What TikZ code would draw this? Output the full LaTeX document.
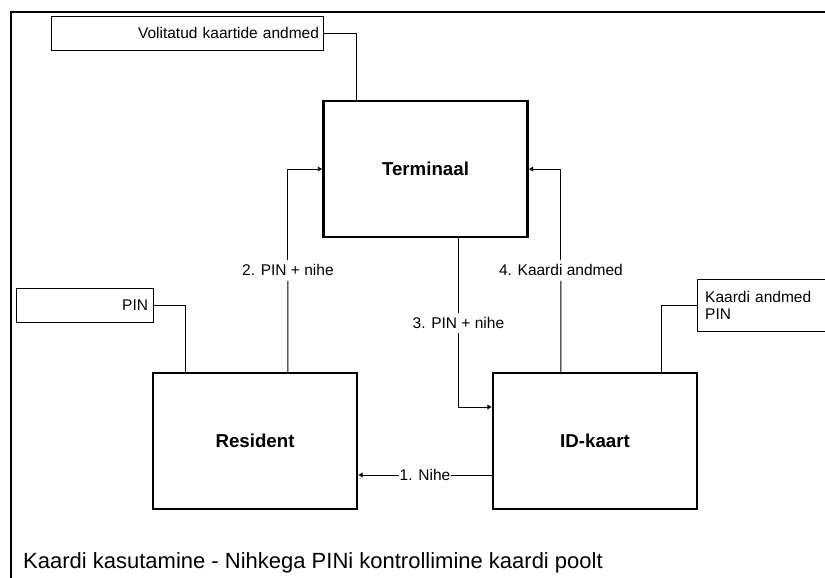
\documentclass[tikz,border=0pt]{standalone}
\usepackage{fontspec}
\setmainfont{Liberation Sans}
\usetikzlibrary{arrows.meta,calc}

\tikzset{
  block/.style={draw, line width=2.2pt, minimum width=204pt, minimum height=136pt,
                inner sep=0pt, font=\fontsize{18.7}{22}\selectfont\bfseries},
  store/.style={draw, line width=0.8pt, minimum height=34pt, inner xsep=4pt, inner ysep=0pt,
                align=right, font=\fontsize{15.5}{18}\selectfont},
  link/.style={line width=0.9pt},
  flow/.style={link, -{Latex[length=4.5pt,width=5.5pt]}},
  flowlabel/.style={inner xsep=1pt, inner ysep=4.5pt, font=\fontsize{15.5}{18}\selectfont},
  frame/.style={line width=2pt}
}

\begin{document}
\begin{tikzpicture}[x=1pt, y=-1pt]
  \useasboundingbox (0,0) rectangle (825,578);

  % outer frame
  \draw[frame] (11,578) -- (11,12) -- (825,12);

  % main blocks
  \node[block] (term) at (425.5,169) {Terminaal};
  \node[block] (res)  at (255,441)   {Resident};
  \node[block] (idk)  at (595,441)   {ID-kaart};

  % data stores
  \node[store, minimum width=272pt, text width=264pt] (vol) at (187,33) {Volitatud kaartide andmed};
  \node[store, minimum width=137pt, text width=127pt] (pin) at (84.5,305) {PIN};
  \node[anchor=north west, minimum width=128pt, minimum height=52pt, inner xsep=8pt, inner ysep=0pt,
        text width=112pt, align=left, font=\fontsize{15.5}{17.5}\selectfont] (kpin) at (697,279)
        {Kaardi andmed\\PIN};
  \draw[line width=0.8pt] (kpin.north east) -- (kpin.north west) -- (kpin.south west) -- (kpin.south east);

  % store links
  \draw[link] (vol.east) -| ([xshift=34pt]term.north west);
  \draw[link] (pin.east) -| ([xshift=34pt]res.north west);
  \draw[link] (kpin.west) -| ([xshift=170pt]idk.north west);

  % start points of the data flows
  \coordinate (f2) at ([xshift=136pt]res.north west);
  \coordinate (f4) at ([xshift=69pt]idk.north west);
  \coordinate (f3) at ([xshift=136pt]term.south west);
  \coordinate (f1) at ([yshift=-34pt]idk.west);

  % flow labels, set into the lines
  \node[flowlabel] (l2) at ($(f2)!0.5!(f2 |- term.west)$) {2. PIN + nihe};
  \node[flowlabel] (l4) at ($(f4)!0.5!(f4 |- term.east)$) {4. Kaardi andmed};
  \node[flowlabel] (l3) at ($(f3)+(0,85)$) {3. PIN + nihe};
  \node[flowlabel] (l1) at ($(f1)!0.5!(f1 -| res.east)$) {1. Nihe};

  % data flows
  \draw[link] (f2) -- (l2.south);
  \draw[flow] (l2.north) |- (term.west);
  \draw[link] (f4) -- (l4.south);
  \draw[flow] (l4.north) |- (term.east);
  \draw[link] (f3) -- (l3.north);
  \draw[flow] (l3.south) |- ([yshift=34pt]idk.west);
  \draw[link] (f1) -- (l1.east);
  \draw[flow] (l1.west) -- (f1 -| res.east);

  % caption
  \node[anchor=base west, inner sep=0pt, font=\fontsize{22}{26}\selectfont] (caption) at (23,568)
        {Kaardi kasutamine - Nihkega PINi kontrollimine kaardi poolt};
\end{tikzpicture}
\end{document}
